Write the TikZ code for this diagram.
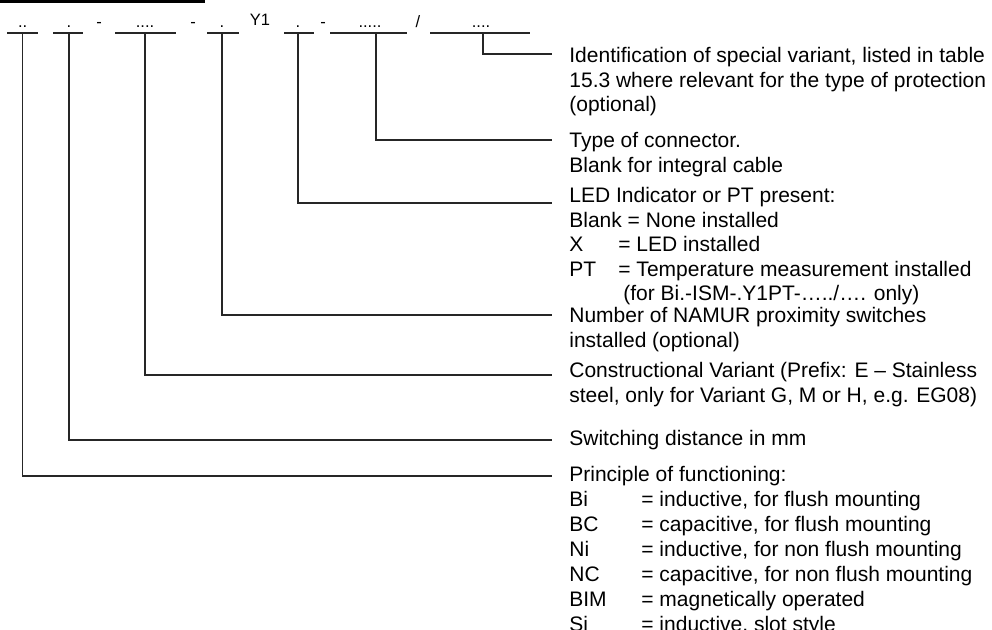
\documentclass[tikz,border=0pt]{standalone}
\usepackage{fontspec}
\setmainfont{Liberation Sans}
\usetikzlibrary{positioning}
\newcommand{\righe}[1]{\begin{tabular}[t]{@{}l@{}}#1\end{tabular}}
\begin{document}
\begin{tikzpicture}[x=0.5pt,y=-0.5pt,
    linea/.style={line width=0.75pt,draw=black!85},
    campo/.style={inner sep=0pt,anchor=base,font=\fontsize{8.25}{10}\selectfont},
    descr/.style={inner sep=0pt,anchor=base west,font=\fontsize{10.5}{12.25}\selectfont}]
    \useasboundingbox (0,0) rectangle (992,630);
    % Barra
    \fill (0,0) rectangle (205,3);
    % Campi del codice
    \node[campo] (f1) at (22.7,28) {..};
    \node[campo] (f2) at (69,28) {.};
    \node[campo] (s1) at (99,28) {-};
    \node[campo] (f3) at (145,28) {....};
    \node[campo] (s2) at (193,28) {-};
    \node[campo] (f4) at (222,28) {.};
    \node[campo] (y1) at (260,26) {Y1};
    \node[campo] (f5) at (298,28) {.};
    \node[campo] (s3) at (323,28) {-};
    \node[campo] (f6) at (370,28) {.....};
    \node[campo] (s4) at (418,28) {/};
    \node[campo] (f7) at (481,28) {....};
    \draw[linea] (7,33) -- (38,33);
    \draw[linea] (53,33) -- (83,33);
    \draw[linea] (115,33) -- (176,33);
    \draw[linea] (207,33) -- (239,33);
    \draw[linea] (284,33) -- (314,33);
    \draw[linea] (330,33) -- (407,33);
    \draw[linea] (430,33) -- (530,33);
    % Linee
    \coordinate (u1) at (22.7,33);
    \coordinate (u2) at (69,33);
    \coordinate (u3) at (145,33);
    \coordinate (u4) at (222,33);
    \coordinate (u5) at (298,33);
    \coordinate (u6) at (376,33);
    \coordinate (u7) at (483,33);
    \coordinate (e1) at (552,476);
    \coordinate (e2) at (552,440);
    \coordinate (e3) at (552,375);
    \coordinate (e4) at (552,315);
    \coordinate (e5) at (552,203);
    \coordinate (e6) at (552,140);
    \coordinate (e7) at (552,54);
    \foreach \i in {1,...,7}
        \draw[linea] (u\i) |- (e\i);
    % Descrizioni
    \node[descr] (d7) at (569,63) {\righe{Identification of special variant, listed in table\\15.3 where relevant for the type of protection\\(optional)}};
    \node[descr] (d6) at (569,148) {\righe{Type of connector.\\Blank for integral cable}};
    \node[descr] (d5) at (569,203) {\righe{LED Indicator or PT present:\\Blank = None installed\\\makebox[24.5pt][l]{X}= LED installed\\\makebox[24.5pt][l]{PT}= Temperature measurement installed\\\hspace*{27pt}(for Bi.-ISM-.Y1PT-…../…. only)}};
    \node[descr] (d4) at (569,323) {\righe{Number of NAMUR proximity switches\\installed (optional)}};
    \node[descr] (d3) at (569,378) {\righe{Constructional Variant (Prefix: E – Stainless\\steel, only for Variant G, M or H, e.g. EG08)}};
    \node[descr] (d2) at (569,446) {Switching distance in mm};
    \node[descr,font=\fontsize{10.5}{12.5}\selectfont] (d1) at (569,482) {\righe{Principle of functioning:\\\makebox[36pt][l]{Bi}= inductive, for flush mounting\\\makebox[36pt][l]{BC}= capacitive, for flush mounting\\\makebox[36pt][l]{Ni}= inductive, for non flush mounting\\\makebox[36pt][l]{NC}= capacitive, for non flush mounting\\\makebox[36pt][l]{BIM}= magnetically operated\\\makebox[36pt][l]{Si}= inductive, slot style}};
\end{tikzpicture}
\end{document}
